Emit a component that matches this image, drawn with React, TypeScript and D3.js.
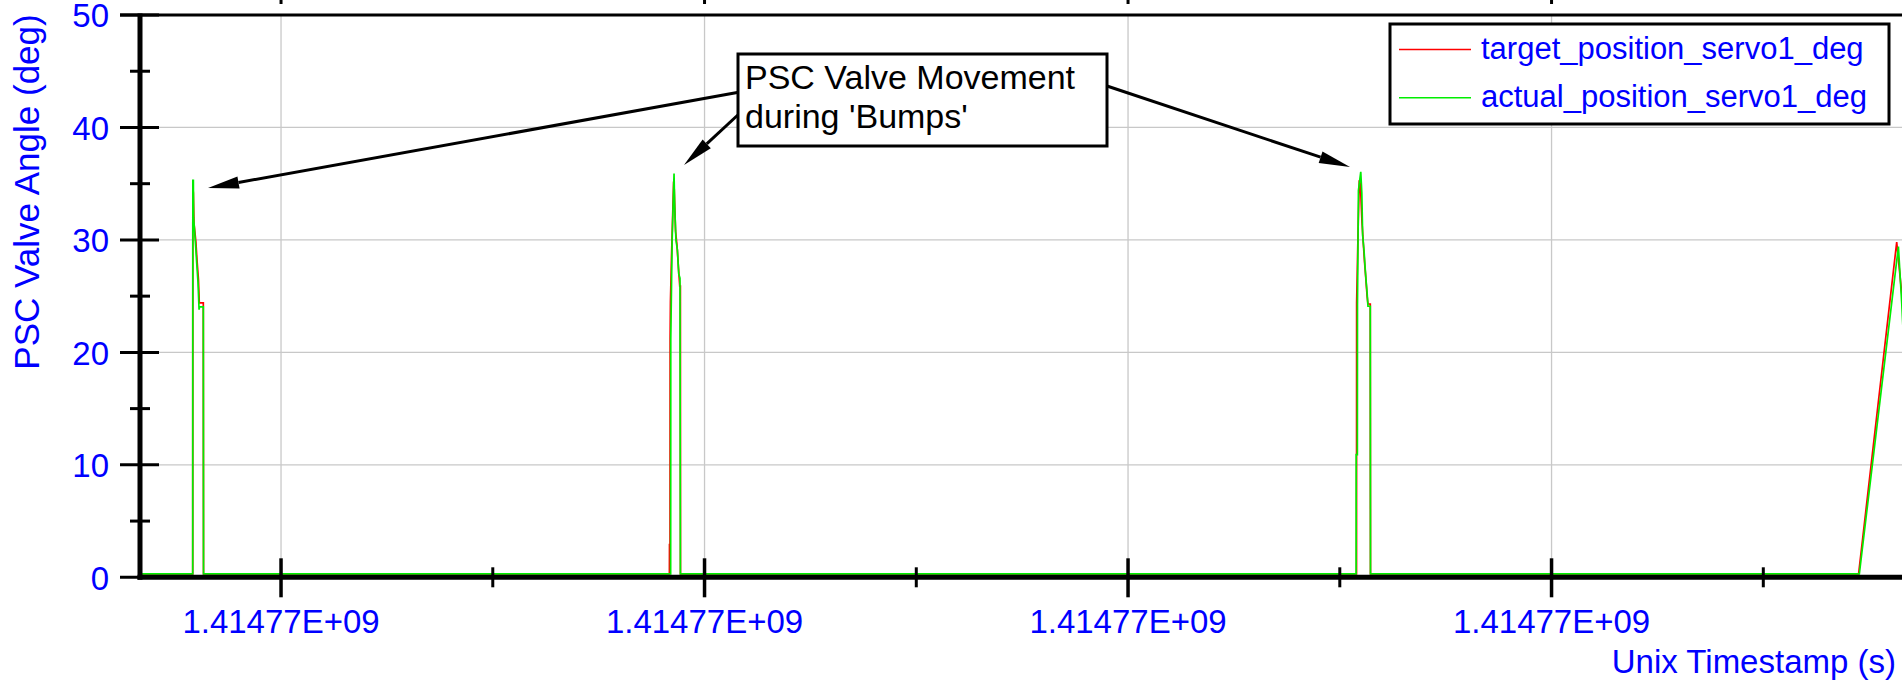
import React from "react";
import * as d3 from "d3";

const T0 = 1414770000;

// time offsets (s from T0) and values (deg)
const targetTimes = [333.4, 358.3, 358.35, 358.6, 358.9, 359.8, 360.4, 361.0, 361.4, 363.3, 363.4,
  583.4, 583.45, 583.7, 583.75, 583.9, 584.4, 585.4, 585.7, 586.3, 587.0, 587.7, 588.3, 588.6, 588.65,
  907.9, 907.95, 908.6, 909.2, 909.7, 910.5, 911.0, 911.7, 912.2, 912.9, 913.3, 914.4, 914.5,
  1145.0, 1163.0, 1165.5, 1166.5];
const targetValues = [0.3, 0.3, 34.6, 34.2, 31.5, 29.8, 28.0, 26.5, 24.4, 24.4, 0.3,
  0.3, 2.9, 2.9, 21.2, 24.5, 28.5, 35.2, 34.5, 30.8, 29.5, 27.5, 25.9, 25.9, 0.3,
  0.3, 24.4, 30.5, 35.3, 35.0, 31.5, 30.0, 28.0, 26.8, 25.0, 24.3, 24.3, 0.3,
  0.3, 29.8, 25.0, 22.0];

const actualTimes = [333.4, 358.3, 358.35, 358.6, 358.7, 359.7, 360.2, 360.8, 361.3, 361.5, 363.3, 363.4,
  584.0, 584.05, 584.3, 584.7, 585.6, 585.9, 586.2, 586.5, 587.2, 587.8, 588.4, 588.6,
  907.7, 907.75, 908.3, 908.35, 908.8, 909.9, 910.4, 910.8, 911.5, 911.9, 912.4, 912.9, 913.3, 914.4, 914.5,
  1145.35, 1163.8, 1165.4, 1166.0];
const actualValues = [0.3, 0.3, 35.3, 35.3, 32.0, 29.4, 27.9, 26.2, 23.8, 24.05, 24.05, 0.3,
  0.3, 21.2, 24.5, 30.0, 35.9, 33.0, 31.6, 30.0, 29.1, 27.0, 26.6, 0.3,
  0.3, 10.9, 10.9, 24.2, 34.4, 36.05, 34.2, 30.4, 28.9, 27.7, 26.4, 25.3, 24.1, 24.1, 0.3,
  0.3, 29.4, 24.3, 22.0];

const xMajorTicks = [400, 600, 800, 1000];
const xMinorTicks = [500, 700, 900, 1100];
const yMajorTicks = [0, 10, 20, 30, 40, 50];
const yMinorTicks = [5, 15, 25, 35, 45];
const seriesNames = ["target_position_servo1_deg", "actual_position_servo1_deg"];
const seriesColors = ["#ff0000", "#00ee00"];
const annotationLines = ["PSC Valve Movement", "during 'Bumps'"];

const W = 1902, H = 686;
const left = 140, right = 1902, top = 15, bottom = 577.3;
const FONT = "'Liberation Sans', Arial, sans-serif";
const BLUE = "#0000ff";

function fmtSci(v: number) {
  const [m, e] = v.toExponential(5).split("e");
  const ex = parseInt(e, 10);
  return m + "E" + (ex >= 0 ? "+" : "-") + String(Math.abs(ex)).padStart(2, "0");
}

function Arrow({ x1, y1, x2, y2 }: { x1: number; y1: number; x2: number; y2: number }) {
  const ang = Math.atan2(y2 - y1, x2 - x1);
  const L = 31, hw = 6;
  const bx = x2 - L * Math.cos(ang), by = y2 - L * Math.sin(ang);
  const px = -Math.sin(ang) * hw, py = Math.cos(ang) * hw;
  return (
    <g>
      <line x1={x1} y1={y1} x2={bx} y2={by} stroke="#000" strokeWidth={3} />
      <polygon points={`${x2},${y2} ${bx + px},${by + py} ${bx - px},${by - py}`} fill="#000" />
    </g>
  );
}

export default function App() {
  const x = d3.scaleLinear().domain([T0 + 333.4, T0 + 1165.5]).range([left, right]);
  const y = d3.scaleLinear().domain([0, 50]).range([bottom, top]);
  const line = d3.line<[number, number]>().x((d) => x(T0 + d[0])).y((d) => y(d[1]));
  const tData = targetTimes.map((t, i) => [t, targetValues[i]] as [number, number]);
  const aData = actualTimes.map((t, i) => [t, actualValues[i]] as [number, number]);

  return (
    <svg width={W} height={H} style={{ position: "absolute", left: 0, top: 0, background: "#fff" }} fontFamily={FONT}>
      <defs>
        <clipPath id="plot">
          <rect x={left} y={top} width={right - left} height={bottom - top} />
        </clipPath>
      </defs>
      <rect x={0} y={0} width={W} height={H} fill="#fff" />
      {/* grid */}
      {xMajorTicks.map((t) => (
        <line key={"gx" + t} x1={x(T0 + t)} x2={x(T0 + t)} y1={top} y2={bottom} stroke="#c8c8c8" strokeWidth={1.3} />
      ))}
      {yMajorTicks.filter((v) => v > 0 && v < 50).map((v) => (
        <line key={"gy" + v} x1={left} x2={right} y1={y(v)} y2={y(v)} stroke="#c8c8c8" strokeWidth={1.3} />
      ))}
      {/* data */}
      <g clipPath="url(#plot)">
        <path d={line(tData) || ""} fill="none" stroke={seriesColors[0]} strokeWidth={1.7} />
        <path d={line(aData) || ""} fill="none" stroke={seriesColors[1]} strokeWidth={1.7} />
      </g>
      {/* axes */}
      <line x1={120} x2={right} y1={top} y2={top} stroke="#000" strokeWidth={3} />
      <line x1={left} x2={left} y1={top - 1.5} y2={bottom + 2.5} stroke="#000" strokeWidth={5} />
      <line x1={left - 2.5} x2={right} y1={bottom} y2={bottom} stroke="#000" strokeWidth={5} />
      {yMajorTicks.map((v) => (
        <g key={"yt" + v}>
          <line x1={120} x2={159} y1={y(v)} y2={y(v)} stroke="#000" strokeWidth={3} />
          <text x={109} y={y(v)} dy="0.37em" textAnchor="end" fontSize={33} fill={BLUE}>{v}</text>
        </g>
      ))}
      {yMinorTicks.map((v) => (
        <line key={"ym" + v} x1={130} x2={150} y1={y(v)} y2={y(v)} stroke="#000" strokeWidth={3} />
      ))}
      {xMajorTicks.map((t) => (
        <g key={"xt" + t}>
          <line x1={x(T0 + t)} x2={x(T0 + t)} y1={bottom - 19} y2={bottom + 20} stroke="#000" strokeWidth={3.5} />
          <line x1={x(T0 + t)} x2={x(T0 + t)} y1={0} y2={4} stroke="#000" strokeWidth={3} />
          <text x={x(T0 + t)} y={633} textAnchor="middle" fontSize={33} fill={BLUE}>{fmtSci(T0 + t)}</text>
        </g>
      ))}
      {xMinorTicks.map((t) => (
        <line key={"xm" + t} x1={x(T0 + t)} x2={x(T0 + t)} y1={bottom - 10} y2={bottom + 10} stroke="#000" strokeWidth={3} />
      ))}
      <text x={1896} y={673} textAnchor="end" fontSize={33} fill={BLUE}>Unix Timestamp (s)</text>
      <text transform="translate(39,192) rotate(-90)" textAnchor="middle" fontSize={35} fill={BLUE}>PSC Valve Angle (deg)</text>
      {/* legend */}
      <rect x={1390} y={24} width={499} height={100} fill="#fff" stroke="#000" strokeWidth={3} />
      {seriesNames.map((n, i) => (
        <g key={n}>
          <line x1={1399} x2={1471} y1={49.5 + i * 48.3} y2={49.5 + i * 48.3} stroke={seriesColors[i]} strokeWidth={1.5} />
          <text x={1481} y={59} dy={i * 48.3} fontSize={31} fill={BLUE}>{n}</text>
        </g>
      ))}
      {/* annotation */}
      <Arrow x1={740} y1={92} x2={208} y2={188} />
      <Arrow x1={740} y1={113} x2={684} y2={165} />
      <Arrow x1={1107} y1={86} x2={1350} y2={167} />
      <rect x={738} y={54} width={369} height={92} fill="#fff" stroke="#000" strokeWidth={3} />
      {annotationLines.map((s, i) => (
        <text key={s} x={745} y={89 + i * 38.5} fontSize={34} fill="#000">{s}</text>
      ))}
    </svg>
  );
}
